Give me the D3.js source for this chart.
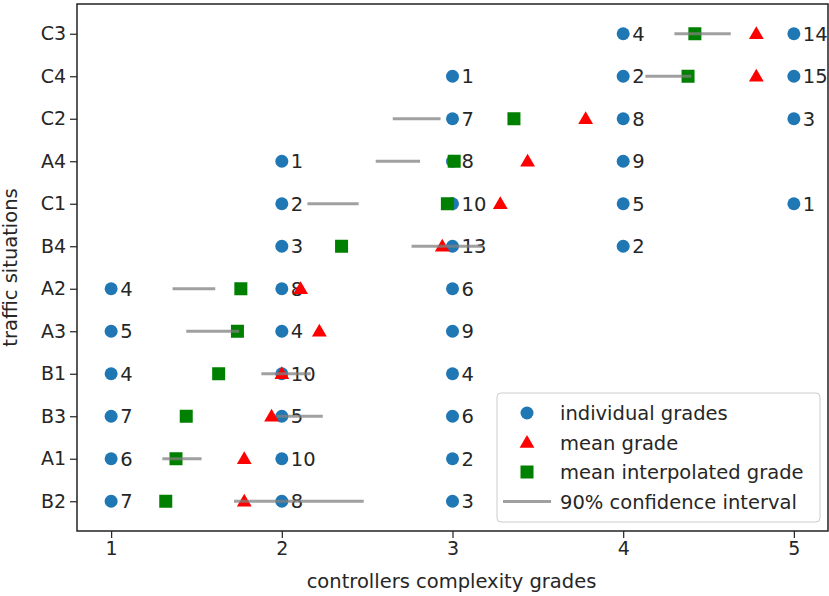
<!DOCTYPE html>
<html><head><meta charset="utf-8">
<script src="https://cdn.jsdelivr.net/npm/d3@7"></script>
<style>body{margin:0;background:#fff}svg{display:block}text{font-family:"DejaVu Sans",sans-serif}</style>
</head><body>
<script>
const situations = ["C3","C4","C2","A4","C1","B4","A2","A3","B1","B3","A1","B2"];
// individual grades: [situation, grade, count]
const individual = [
 ["C3",4,4],["C3",5,14],
 ["C4",3,1],["C4",4,2],["C4",5,15],
 ["C2",3,7],["C2",4,8],["C2",5,3],
 ["A4",2,1],["A4",3,8],["A4",4,9],
 ["C1",2,2],["C1",3,10],["C1",4,5],["C1",5,1],
 ["B4",2,3],["B4",3,13],["B4",4,2],
 ["A2",1,4],["A2",2,8],["A2",3,6],
 ["A3",1,5],["A3",2,4],["A3",3,9],
 ["B1",1,4],["B1",2,10],["B1",3,4],
 ["B3",1,7],["B3",2,5],["B3",3,6],
 ["A1",1,6],["A1",2,10],["A1",3,2],
 ["B2",1,7],["B2",2,8],["B2",3,3]
];
const meanGrade = [4.78,4.78,3.78,3.44,3.28,2.94,2.11,2.22,2.00,1.94,1.78,1.78];
const meanInterp = [4.42,4.38,3.36,3.01,2.97,2.35,1.76,1.74,1.63,1.44,1.38,1.32];
const ciLow  = [4.30,4.13,2.65,2.55,2.15,2.76,1.36,1.44,1.88,1.97,1.30,1.72];
const ciHigh = [4.63,4.40,2.93,2.81,2.45,3.18,1.61,1.75,2.17,2.24,1.53,2.48];
const xTicks = [1,2,3,4,5];

const W=829,H=596;
const m={l:77,r:1,t:4,b:65};
const svg=d3.select("body").append("svg").attr("width",W).attr("height",H);
const x=d3.scaleLinear().domain([0.8,5.2]).range([m.l,W-m.r]);
const yi=d3.scaleLinear().domain([-0.7,situations.length-1+0.7]).range([m.t,H-m.b]);
const y=s=>yi(situations.indexOf(s));
const FS=19.5;

const g=svg.append("g");
g.selectAll("circle.ind").data(individual).join("circle").attr("class","ind")
 .attr("cx",d=>x(d[1])).attr("cy",d=>y(d[0])).attr("r",6.5).attr("fill","#1f77b4");
g.selectAll("text.cnt").data(individual).join("text").attr("class","cnt")
 .attr("x",d=>x(d[1])+9).attr("y",d=>y(d[0])).attr("dy","0.36em")
 .attr("font-size",FS).attr("fill","#262626").text(d=>d[2]);
const tri=d3.symbol().type(d3.symbolTriangle).size(95);
g.selectAll("path.mean").data(meanGrade).join("path").attr("class","mean")
 .attr("transform",(d,i)=>`translate(${x(d)},${yi(i)+1})`).attr("d",tri).attr("fill","#ff0000");
g.selectAll("rect.interp").data(meanInterp).join("rect").attr("class","interp")
 .attr("x",d=>x(d)-6.5).attr("y",(d,i)=>yi(i)-6.5).attr("width",13).attr("height",13).attr("fill","#008000");
g.selectAll("line.ci").data(ciLow).join("line").attr("class","ci")
 .attr("x1",d=>x(d)).attr("x2",(d,i)=>x(ciHigh[i])).attr("y1",(d,i)=>yi(i)).attr("y2",(d,i)=>yi(i))
 .attr("stroke","#808080").attr("stroke-opacity",0.75).attr("stroke-width",3);

svg.append("rect").attr("x",m.l).attr("y",m.t).attr("width",W-m.r-m.l).attr("height",H-m.b-m.t)
 .attr("fill","none").attr("stroke","#222").attr("stroke-width",1.5);

const xa=svg.append("g").attr("transform",`translate(0,${H-m.b})`)
 .call(d3.axisBottom(x).tickValues(xTicks).tickFormat(d3.format("d")).tickSize(7).tickPadding(4));
const ya=svg.append("g").attr("transform",`translate(${m.l},0)`)
 .call(d3.axisLeft(d3.scalePoint().domain(situations).range([yi(0),yi(situations.length-1)])).tickSize(7).tickPadding(4));
[xa,ya].forEach(a=>{a.select(".domain").remove();a.selectAll("text").attr("font-size",19).attr("fill","#262626").style("font-family","DejaVu Sans");a.selectAll("line").attr("stroke","#222").attr("stroke-width",1.2)});

svg.append("text").attr("x",(m.l+W-m.r)/2-1).attr("y",588).attr("text-anchor","middle")
 .attr("font-size",FS).attr("fill","#262626").text("controllers complexity grades");
svg.append("text").attr("transform",`translate(17,${(m.t+H-m.b)/2}) rotate(-90)`).attr("text-anchor","middle")
 .attr("font-size",FS).attr("fill","#262626").text("traffic situations");

const lg=svg.append("g").attr("transform","translate(497,393)");
lg.append("rect").attr("width",323).attr("height",129).attr("rx",4).attr("fill","#fff").attr("fill-opacity",0.85).attr("stroke","#ccc");
const items=["individual grades","mean grade","mean interpolated grade","90% confidence interval"];
items.forEach((t,i)=>{
  const yy=20+i*29.5, mx=30;
  if(i===0) lg.append("circle").attr("cx",mx).attr("cy",yy).attr("r",6.5).attr("fill","#1f77b4");
  if(i===1) lg.append("path").attr("transform",`translate(${mx},${yy+1})`).attr("d",tri).attr("fill","#ff0000");
  if(i===2) lg.append("rect").attr("x",mx-6.5).attr("y",yy-6.5).attr("width",13).attr("height",13).attr("fill","#008000");
  if(i===3) lg.append("line").attr("x1",mx-24).attr("x2",mx+24).attr("y1",yy).attr("y2",yy).attr("stroke","#808080").attr("stroke-opacity",0.75).attr("stroke-width",3);
  lg.append("text").attr("x",63).attr("y",yy).attr("dy","0.36em").attr("font-size",FS).attr("fill","#262626").text(t);
});
</script>
</body></html>
